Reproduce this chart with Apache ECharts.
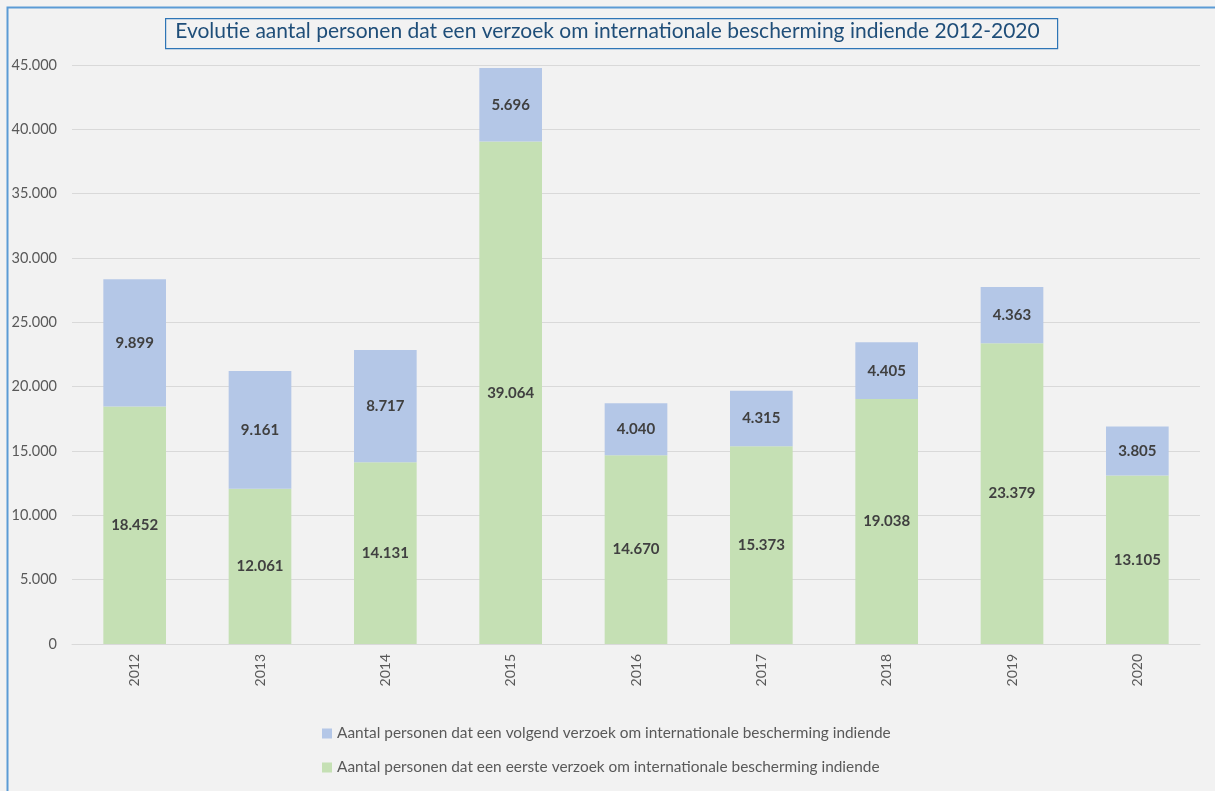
<!DOCTYPE html>
<html><head><meta charset="utf-8">
<script src="https://cdn.jsdelivr.net/npm/echarts@6/dist/echarts.min.js"></script>
<style>
html,body{margin:0;padding:0;background:#f2f2f2;}
#c{width:1215px;height:791px;}
</style></head>
<body><div id="c"></div>
<script>
const categories = ['2012','2013','2014','2015','2016','2017','2018','2019','2020'];
const eersteVerzoek = [18452,12061,14131,39064,14670,15373,19038,23379,13105];
const volgendVerzoek = [9899,9161,8717,5696,4040,4315,4405,4363,3805];
const seriesNames = ['Aantal personen dat een eerste verzoek om internationale bescherming indiende','Aantal personen dat een volgend verzoek om internationale bescherming indiende'];
const titleText = 'Evolutie aantal personen dat een verzoek om internationale bescherming indiende 2012-2020';

function fmt(v){ return String(Math.round(v)).replace(/\B(?=(\d{3})+(?!\d))/g,'.'); }
const FONT = 'Lato, "Noto Sans", sans-serif';
const chart = echarts.init(document.getElementById('c'));
chart.setOption({
  backgroundColor:'#f2f2f2',
  animation:false,
  graphic:[
    {type:'rect', left:5, top:5, shape:{width:1300,height:900}, style:{fill:'none',stroke:'#5b9bd5',lineWidth:2}, silent:true},
    {type:'rect', left:165, top:18, shape:{width:892,height:30}, style:{fill:'#f2f2f2',stroke:'#2e75b6',lineWidth:1.2}, silent:true, z:0},
    {type:'text', left:'center', top:21, style:{text:titleText, fill:'#1f4e79', font:'21px '+FONT}, z:1}
  ],
  grid:{left:72, right:15, top:65, bottom:147},
  legend:{
    orient:'vertical', left:317, top:721, itemGap:19, itemWidth:10, itemHeight:10, icon:'rect',
    data:[seriesNames[1], seriesNames[0]],
    textStyle:{color:'#595959', fontSize:15.4, fontFamily:FONT}
  },
  xAxis:{
    type:'category', data:categories,
    axisLine:{lineStyle:{color:'#d9d9d9'}},
    axisTick:{show:false},
    axisLabel:{rotate:90, color:'#595959', fontSize:14, fontFamily:FONT, margin:10}
  },
  yAxis:{
    type:'value', min:0, max:45000, interval:5000,
    axisLine:{show:false}, axisTick:{show:false},
    splitLine:{lineStyle:{color:'#d9d9d9'}},
    axisLabel:{color:'#595959', fontSize:14.5, fontFamily:FONT, margin:15, formatter:v=>fmt(v)}
  },
  series:[
    {name:seriesNames[0], type:'bar', stack:'a', data:eersteVerzoek, barWidth:'50%',
     itemStyle:{color:'#c5e0b4'},
     label:{show:true, position:'inside', color:'#404040', fontWeight:'bold', fontSize:15, fontFamily:FONT, formatter:p=>fmt(p.value)}},
    {name:seriesNames[1], type:'bar', stack:'a', data:volgendVerzoek, barWidth:'50%',
     itemStyle:{color:'#b4c7e7'},
     label:{show:true, position:'inside', color:'#404040', fontWeight:'bold', fontSize:15, fontFamily:FONT, formatter:p=>fmt(p.value)}}
  ]
});
</script></body></html>
